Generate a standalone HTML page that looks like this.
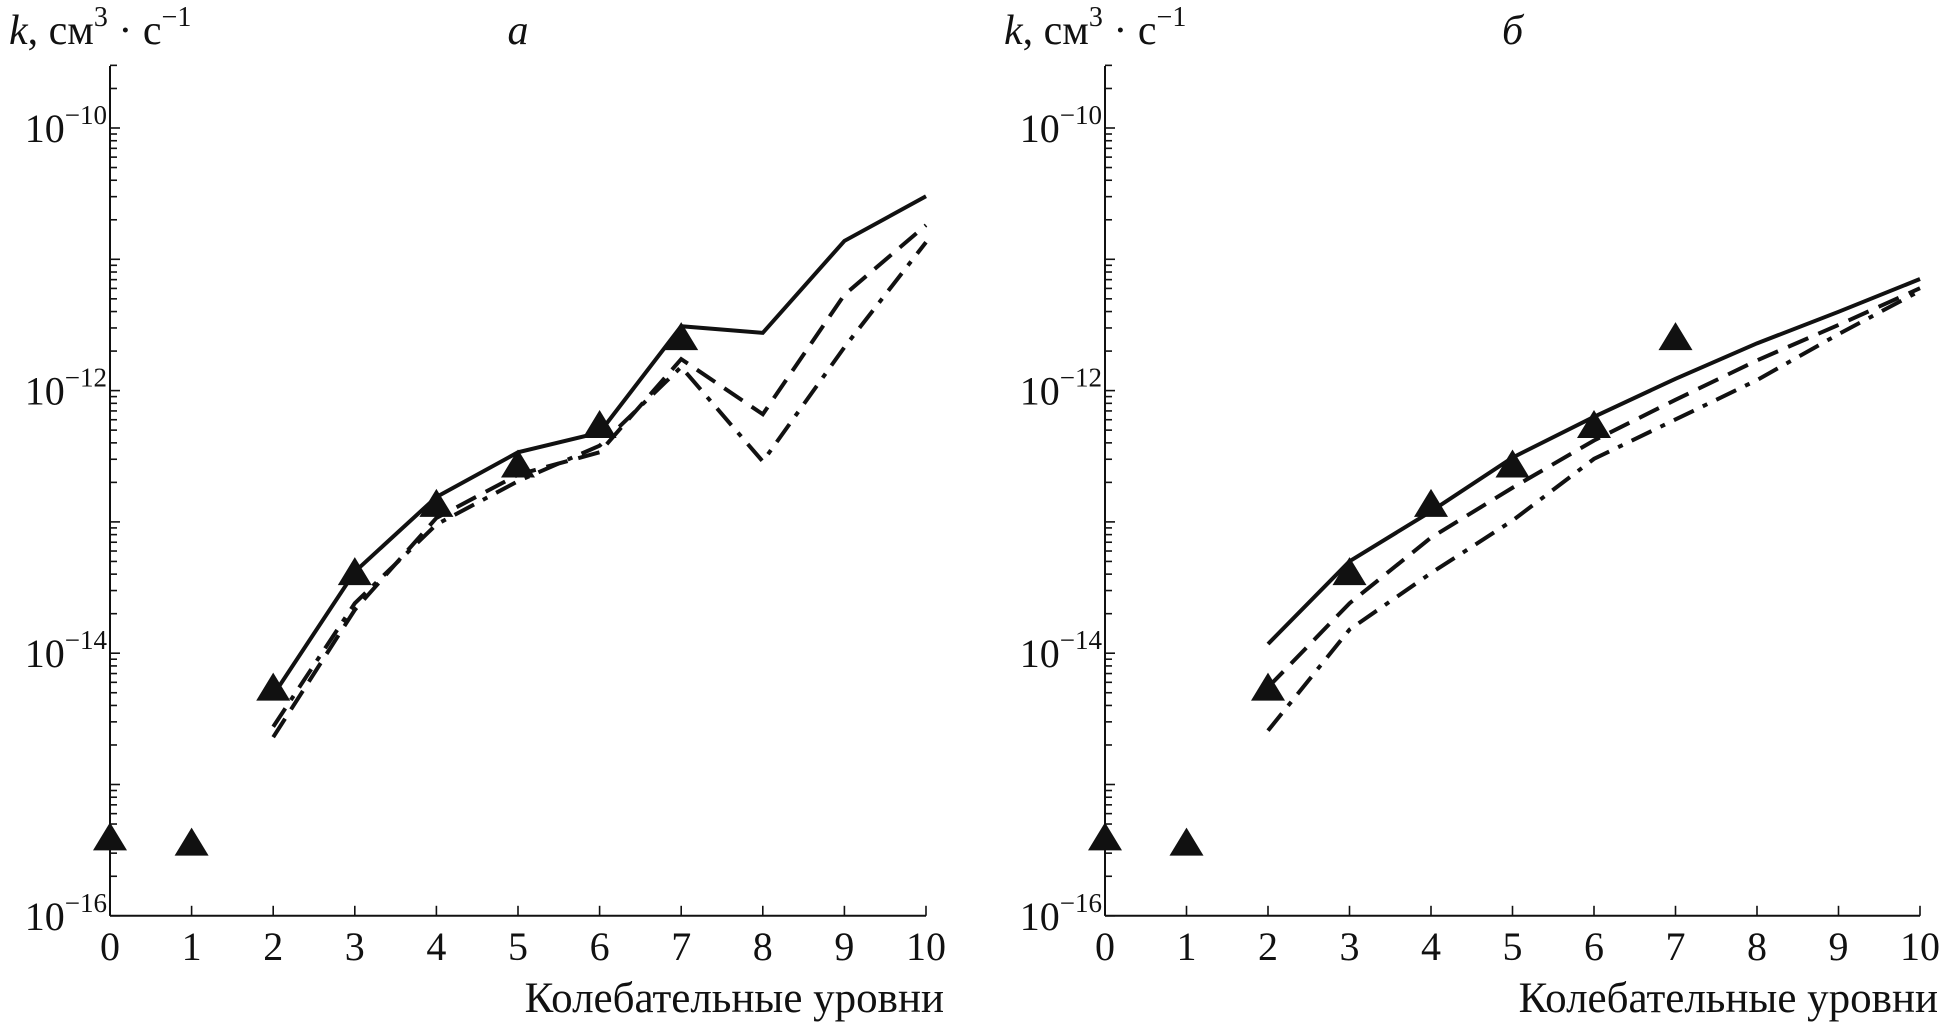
<!DOCTYPE html>
<html><head><meta charset="utf-8"><style>
html,body{margin:0;padding:0;background:#fff;}
svg{display:block;}
text{font-family:"Liberation Serif",serif;fill:#111;}
</style></head><body>
<svg id="chart" width="1939" height="1025" viewBox="0 0 1939 1025"></svg>
<script>
const levels = [0,1,2,3,4,5,6,7,8,9,10];
const lineLevels = [2,3,4,5,6,7,8,9,10];
const triLevels = [0,1,2,3,4,5,6,7];
const triValues = [-15.41,-15.45,-14.27,-13.39,-12.87,-12.57,-12.27,-11.60];
const aSolid = [-14.32,-13.38,-12.81,-12.47,-12.32,-11.51,-11.56,-10.86,-10.52];
const aDashed = [-14.64,-13.67,-12.97,-12.64,-12.47,-11.76,-12.18,-11.27,-10.74];
const aDashDot = [-14.56,-13.62,-13.02,-12.69,-12.42,-11.82,-12.54,-11.67,-10.87];
const bSolid = [-13.93,-13.30,-12.92,-12.51,-12.20,-11.91,-11.64,-11.40,-11.15];
const bDashed = [-14.26,-13.62,-13.12,-12.74,-12.38,-12.07,-11.77,-11.50,-11.22];
const bDashDot = [-14.59,-13.82,-13.39,-12.99,-12.52,-12.22,-11.92,-11.57,-11.24];
const labelExps = [-10,-12,-14,-16];

const NS="http://www.w3.org/2000/svg";
const svg=document.getElementById('chart');
function mk(tag,attrs,parent){const e=document.createElementNS(NS,tag);for(const k in attrs)e.setAttribute(k,attrs[k]);(parent||svg).appendChild(e);return e;}

function panel(x0,x10,letter,solid,dashed,dashdot,pname){
  const g=mk('g',{});
  
  
  const xs=v=>x0+(x10-x0)*v/10;
  const ys=l=>128+(-10-l)*131.3;
  const yTop=66, yBot=ys(-16);
  const ya=mk('line',{x1:x0,y1:yTop,x2:x0,y2:yBot,stroke:'#111','stroke-width':2},g);
  
  const xa=mk('line',{x1:x0,y1:yBot,x2:x10,y2:yBot,stroke:'#111','stroke-width':2},g);
  
  for(let d=-16;d<=-9;d++){
    for(let m=1;m<=9;m++){
      const y=ys(d+Math.log10(m));
      if(y<yTop-1)continue;
      const len=m===1?10:7;
      mk('line',{x1:x0,y1:y,x2:x0+len,y2:y,stroke:'#111','stroke-width':1.6},g);
    }
  }
  labelExps.forEach(e=>{
    const t=mk('text',{x:x0-3,y:ys(e)+14,'font-size':40,'text-anchor':'end'},g);
    
    t.innerHTML='10<tspan dy="-18" font-size="27">−'+(-e)+'</tspan>';
  });
  levels.forEach(v=>{
    mk('line',{x1:xs(v),y1:yBot,x2:xs(v),y2:yBot-10,stroke:'#111','stroke-width':1.6},g);
    const t=mk('text',{x:xs(v),y:yBot+44,'font-size':40,'text-anchor':'middle'},g);
    
    t.textContent=v;
  });
  const xt=mk('text',{x:x10+18,y:1012,'font-size':43,'text-anchor':'end'},g);
  
  xt.textContent='Колебательные уровни';
  const yt=mk('text',{x:x0-101,y:44,'font-size':42},g);
  
  yt.innerHTML='<tspan font-style="italic">k</tspan>, см<tspan dy="-18" font-size="28">3</tspan><tspan dy="18"> · с</tspan><tspan dy="-18" font-size="28">−1</tspan>';
  const pt=mk('text',{x:x0+(x10-x0)*0.5,y:44,'font-size':42,'font-style':'italic','text-anchor':'middle'},g);
  
  pt.textContent=letter;
  function series(vals,dash,name){
    const p=mk('polyline',{points:lineLevels.map((v,i)=>xs(v)+','+ys(vals[i])).join(' '),fill:'none',stroke:'#111','stroke-width':4,'stroke-dasharray':dash,'stroke-linejoin':'miter'},g);
    
  }
  series(solid,'none','solid-line');
  series(dashed,'22 11','dashed-line');
  series(dashdot,'22 10 5 10','dash-dot-line');
  triLevels.forEach((v,i)=>{
    const x=xs(v),y=ys(triValues[i]);
    const t=mk('polygon',{points:`${x},${y-16} ${x-17},${y+12} ${x+17},${y+12}`,fill:'#111'},g);
    
  });
}
panel(110,926,'а',aSolid,aDashed,aDashDot,'panel-a');
panel(1105,1920,'б',bSolid,bDashed,bDashDot,'panel-b');
</script>
</body></html>
